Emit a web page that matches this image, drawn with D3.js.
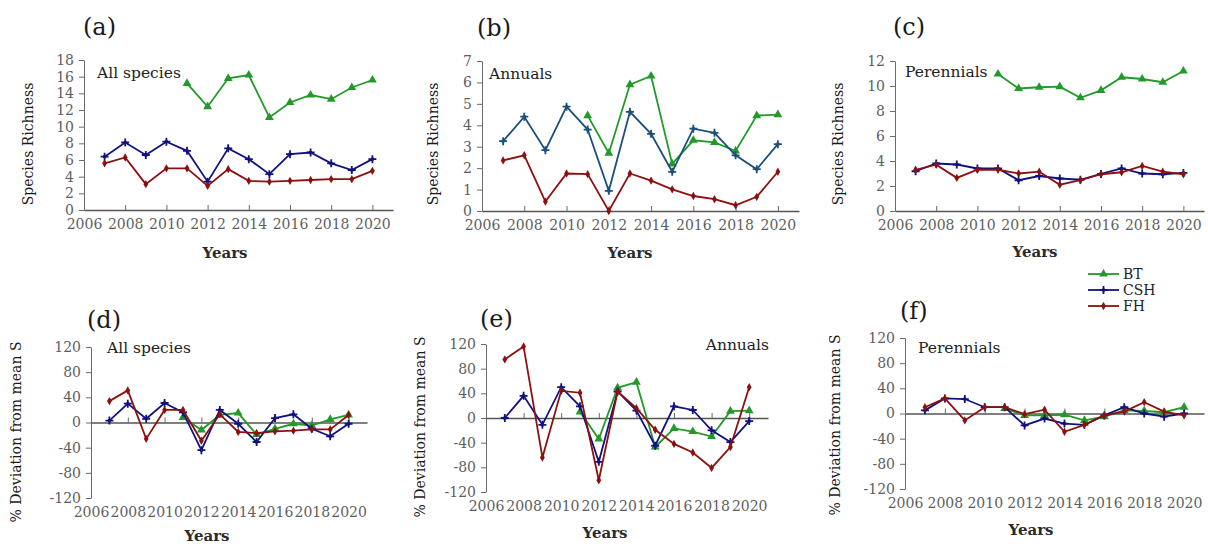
<!DOCTYPE html>
<html>
<head>
<meta charset="utf-8">
<script src="https://cdn.jsdelivr.net/npm/d3@7"></script>
<style>
  body { margin: 0; background: #fff; }
  svg text { font-family: "DejaVu Serif", serif; }
</style>
</head>
<body>
<div id="chart"></div>
<script>
// years and tick labels
const years = [2007, 2008, 2009, 2010, 2011, 2012, 2013, 2014, 2015, 2016, 2017, 2018, 2019, 2020];
const yearTicks = [2006, 2008, 2010, 2012, 2014, 2016, 2018, 2020];
const ticksAll = [0, 2, 4, 6, 8, 10, 12, 14, 16, 18];
const ticksAnn = [0, 1, 2, 3, 4, 5, 6, 7];
const ticksPer = [0, 2, 4, 6, 8, 10, 12];
const ticksDev = [-120, -80, -40, 0, 40, 80, 120];

// species richness
const richAllBT = [null, null, null, null, 15.2, 12.4, 15.8, 16.2, 11.1, 12.9, 13.8, 13.3, 14.7, 15.6];
const richAllCSH = [6.4, 8.1, 6.6, 8.2, 7.1, 3.4, 7.4, 6.1, 4.3, 6.7, 6.9, 5.6, 4.8, 6.1];
const richAllFH = [5.6, 6.3, 3.1, 5.0, 5.0, 2.9, 4.9, 3.5, 3.4, 3.5, 3.6, 3.7, 3.7, 4.7];

const richAnnBT = [null, null, null, null, 4.45, 2.7, 5.9, 6.3, 2.2, 3.3, 3.2, 2.8, 4.45, 4.5];
const richAnnCSH = [3.26, 4.4, 2.84, 4.87, 3.8, 0.94, 4.63, 3.6, 1.83, 3.84, 3.65, 2.6, 1.95, 3.12];
const richAnnFH = [2.36, 2.6, 0.44, 1.75, 1.72, 0, 1.75, 1.42, 1.01, 0.7, 0.55, 0.27, 0.66, 1.83];

const richPerBT = [null, null, null, null, 10.96, 9.8, 9.9, 9.95, 9.06, 9.65, 10.7, 10.56, 10.3, 11.2];
const richPerCSH = [3.18, 3.8, 3.72, 3.4, 3.4, 2.46, 2.8, 2.6, 2.5, 2.97, 3.4, 3.0, 2.94, 3.05];
const richPerFH = [3.3, 3.7, 2.65, 3.3, 3.3, 3.0, 3.15, 2.1, 2.46, 2.94, 3.1, 3.6, 3.15, 2.94];

// % deviation from mean S
const devAllBT = [null, null, null, null, 8, -12, 12, 15, -19, -10, -2, -5, 5, 12];
const devAllCSH = [3, 30, 6, 31, 16, -44, 20, -2, -31, 7, 13, -10, -22, -2];
const devAllFH = [34, 51, -26, 20, 20, -29, 13, -15, -17, -14, -13, -11, -11, 12];

const devAnnBT = [null, null, null, null, 10, -34, 49, 58, -47, -17, -22, -30, 11, 12];
const devAnnCSH = [0, 36, -11, 50, 19, -71, 43, 12, -45, 19, 13, -20, -39, -5];
const devAnnFH = [95, 116, -64, 44, 41, -101, 43, 16, -19, -42, -56, -81, -47, 50];

const devPerBT = [null, null, null, null, 8, -3, -3, -2, -11, -5, 5, 4, 2, 10];
const devPerCSH = [5, 24, 23, 10, 10, -19, -8, -16, -18, -3, 10, 0, -5, 0];
const devPerFH = [10, 24, -11, 10, 10, -1, 6, -29, -18, -3, 3, 18, 3, -3];

const seriesNames = ["BT", "CSH", "FH"];
const colors = { BT: "#23992a", CSH: "#12127f", FH: "#8c1010" };

const svg = d3.select("#chart").append("svg")
    .attr("width", 1208)
    .attr("height", 547);

// layout of the six panels
const panels = [
    { id: "(a)", note: "All species", ticks: ticksAll, data: [richAllBT, richAllCSH, richAllFH],
      x0: 84, x1: 393, yTop: 60, yBot: 210, dev: false,
      lab: [83, 35], noteAt: [97, 78, "start"], ttlX: 28, ttlY: 144, yrs: [225, 258], yTitle: "Species Richness" },
    { id: "(b)", note: "Annuals", ticks: ticksAnn, data: [richAnnBT, richAnnCSH, richAnnFH],
      x0: 482, x1: 799, yTop: 61, yBot: 211, dev: false, cshColor: "#1d4f7c",
      lab: [477, 36], noteAt: [489, 79, "start"], ttlX: 433, ttlY: 144, yrs: [630, 258], yTitle: "Species Richness" },
    { id: "(c)", note: "Perennials", ticks: ticksPer, data: [richPerBT, richPerCSH, richPerFH],
      x0: 895, x1: 1204, yTop: 61, yBot: 211, dev: false,
      lab: [893, 35], noteAt: [905, 77, "start"], ttlX: 838, ttlY: 144, yrs: [1035, 257], yTitle: "Species Richness" },
    { id: "(d)", note: "All species", ticks: ticksDev, data: [devAllBT, devAllCSH, devAllFH],
      x0: 91, x1: 367, yTop: 347, yBot: 498, dev: true,
      lab: [87, 328], noteAt: [107, 353, "start"], ttlX: 16, ttlY: 432, yrs: [207, 541], yTitle: "% Deviation from mean S" },
    { id: "(e)", note: "Annuals", ticks: ticksDev, data: [devAnnBT, devAnnCSH, devAnnFH],
      x0: 486, x1: 768, yTop: 344, yBot: 492, dev: true,
      lab: [480, 327], noteAt: [769, 350, "end"], ttlX: 420, ttlY: 427, yrs: [605, 538], yTitle: "% Deviation from mean S" },
    { id: "(f)", note: "Perennials", ticks: ticksDev, data: [devPerBT, devPerCSH, devPerFH],
      x0: 905, x1: 1204, yTop: 338, yBot: 489, dev: true,
      lab: [900, 319], noteAt: [918, 353, "start"], ttlX: 835, ttlY: 425, yrs: [1031, 535], yTitle: "% Deviation from mean S" }
];

function marker(g, name, color, x, y) {
    if (name === "BT") {
        g.append("path")
            .attr("d", d3.symbol(d3.symbolTriangle, 34)())
            .attr("transform", `translate(${x},${y})`)
            .attr("fill", color);
    } else if (name === "CSH") {
        g.append("path")
            .attr("d", "M-4,0H4M0,-4V4")
            .attr("transform", `translate(${x},${y})`)
            .attr("stroke", color)
            .attr("stroke-width", 1.8);
        g.append("rect")
            .attr("x", x - 1.5).attr("y", y - 1.5)
            .attr("width", 3).attr("height", 3)
            .attr("fill", color);
    } else {
        g.append("path")
            .attr("d", d3.symbol(d3.symbolDiamond, 20)())
            .attr("transform", `translate(${x},${y})`)
            .attr("fill", color);
    }
}

panels.forEach(p => {
    const g = svg.append("g");
    const x = d3.scaleLinear().domain([2006, 2021]).range([p.x0, p.x1]);
    const ext = d3.extent(p.ticks);
    const y = d3.scaleLinear().domain(ext).range([p.yBot, p.yTop]);
    const y0 = y(0);
    const labelTop = p.dev ? y(-120) + 9 : y0 + 9;

    // y axis (plain hyphen for negatives, like the original)
    const ya = g.append("g")
        .attr("transform", `translate(${p.x0},0)`)
        .call(d3.axisLeft(y).tickValues(p.ticks).tickSize(5).tickSizeOuter(0)
            .tickPadding(5).tickFormat(d => String(d)));
    ya.select(".domain").attr("stroke", "#6b6b6b");
    ya.selectAll(".tick line").attr("stroke", "#6b6b6b");
    ya.selectAll("text").attr("fill", "#5e5e5e").style("font-size", "14px");

    // x axis (ticks pointing up, labels below)
    const xa = g.append("g")
        .attr("transform", `translate(0,${y0})`)
        .call(d3.axisBottom(x).tickValues(yearTicks).tickSize(-5).tickSizeOuter(0)
            .tickPadding(labelTop - y0).tickFormat(d => String(d)));
    xa.select(".domain").attr("stroke", "#555").attr("stroke-width", 1.3);
    xa.selectAll(".tick line").attr("stroke", "#6b6b6b");
    xa.selectAll("text").attr("fill", "#5e5e5e").style("font-size", "14px");

    // lines and markers
    p.data.forEach((vals, i) => {
        const name = seriesNames[i];
        const color = (name === "CSH" && p.cshColor) ? p.cshColor : colors[name];
        const pts = years.map((yr, k) => ({ year: yr, v: vals[k] }));
        const line = d3.line()
            .defined(d => d.v !== null)
            .x(d => x(d.year))
            .y(d => y(d.v));
        g.append("path")
            .datum(pts)
            .attr("fill", "none")
            .attr("stroke", color)
            .attr("stroke-width", 1.8)
            .attr("d", line);
        pts.filter(d => d.v !== null).forEach(d => marker(g, name, color, x(d.year), y(d.v)));
    });

    // texts
    g.append("text")
        .attr("x", p.lab[0]).attr("y", p.lab[1])
        .style("font-size", "24px").attr("fill", "#1a1a1a")
        .text(p.id);
    g.append("text")
        .attr("x", p.noteAt[0]).attr("y", p.noteAt[1])
        .attr("text-anchor", p.noteAt[2])
        .style("font-size", "15.5px").attr("fill", "#222")
        .text(p.note);
    g.append("text")
        .attr("transform", `translate(${p.ttlX},${p.ttlY}) rotate(-90)`)
        .attr("text-anchor", "middle")
        .attr("dy", "0.35em")
        .style("font-size", "14px").attr("fill", "#1a1a1a")
        .text(p.yTitle);
    g.append("text")
        .attr("x", p.yrs[0]).attr("y", p.yrs[1])
        .attr("text-anchor", "middle")
        .style("font-size", "15px").style("font-weight", "bold").attr("fill", "#2a2a2a")
        .text("Years");
});

// legend
const legend = svg.append("g").attr("transform", "translate(1088,274)");
seriesNames.forEach((name, i) => {
    const yy = i * 16;
    legend.append("line")
        .attr("x1", 0).attr("x2", 31)
        .attr("y1", yy).attr("y2", yy)
        .attr("stroke", colors[name])
        .attr("stroke-width", 1.8);
    marker(legend, name, colors[name], 15.5, yy);
    legend.append("text")
        .attr("x", 35).attr("y", yy)
        .attr("dy", "0.35em")
        .style("font-size", "14px").attr("fill", "#222")
        .text(name);
});
</script>
</body>
</html>
